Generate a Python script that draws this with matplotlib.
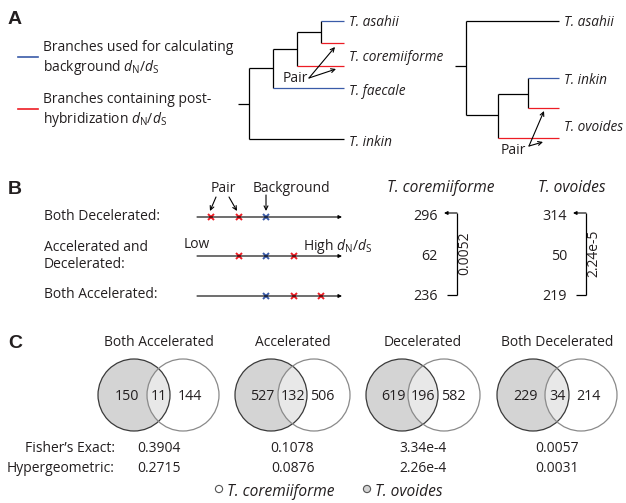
import matplotlib
matplotlib.use('Agg')
import matplotlib.pyplot as plt
from matplotlib.patches import Circle

plt.rcParams['font.family'] = ['Open Sans', 'DejaVu Sans']
plt.rcParams['mathtext.fontset'] = 'custom'
plt.rcParams['mathtext.rm'] = 'Open Sans'
plt.rcParams['mathtext.it'] = 'Open Sans:italic'
plt.rcParams['mathtext.bf'] = 'Open Sans:bold'

TXT = '#231f20'
BLUE = '#3a5ba8'
RED = '#ed1c24'
FS = 10
FS_SP = 11.2
DNDS = r'$d_\mathrm{N}/d_\mathrm{S}$'

# panel A
legend_a = ['Branches used for calculating\nbackground ' + DNDS,
            'Branches containing post-\nhybridization ' + DNDS]
tree1_tips = ['T. asahii', 'T. coremiiforme', 'T. faecale', 'T. inkin']
tree2_tips = ['T. asahii', 'T. inkin', 'T. ovoides']

# panel B
row_labels = ['Both Decelerated:', 'Accelerated and\nDecelerated:', 'Both Accelerated:']
pair_ranks = [[0, 1], [1, 3], [3, 4]]
bg_rank = 2
species_b = ['T. coremiiforme', 'T. ovoides']
counts_cor = [296, 62, 236]
counts_ovo = [314, 50, 219]
trend_p = ['0.0052', '2.24e-5']

# panel C
venn_titles = ['Both Accelerated', 'Accelerated', 'Decelerated', 'Both Decelerated']
only_ovo = [150, 527, 619, 229]
shared = [11, 132, 196, 34]
only_cor = [144, 506, 582, 214]
fisher_p = ['0.3904', '0.1078', '3.34e-4', '0.0057']
hyper_p = ['0.2715', '0.0876', '2.26e-4', '0.0031']

fig = plt.figure(figsize=(6.26, 5.03), dpi=100)
ax = fig.add_axes([0, 0, 1, 1])
ax.set_xlim(0, 626)
ax.set_ylim(503, 0)
ax.axis('off')


def txt(x, y, s, **kw):
    kw.setdefault('fontsize', FS)
    kw.setdefault('color', TXT)
    kw.setdefault('va', 'center_baseline')
    ax.text(x, y, s, **kw)


def seg(pts, color='black'):
    for (x0, y0), (x1, y1) in pts:
        ax.plot([x0, x1], [y0, y1], color=color, lw=0.9, solid_capstyle='butt')


def arrow(tail, tip, style='->', ms=7):
    ax.annotate('', xy=tip, xytext=tail,
                arrowprops=dict(arrowstyle=style, lw=0.8, color='black',
                                shrinkA=0, shrinkB=0, mutation_scale=ms))


# ---- panel labels
for lab, y in zip('ABC', [17, 188, 341]):
    ax.text(8, y, lab, fontsize=14, fontweight='bold', family='Liberation Sans',
            color=TXT, va='center_baseline')

# ---- A: legend
for s, col, y in zip(legend_a, [BLUE, RED], [57, 109]):
    ax.plot([18, 38], [y, y], color=col, lw=1.2)
    txt(43, y + 1.5, s, va='center', linespacing=1.25)

# ---- A: left tree
seg([((238, 104), (249, 104)), ((249, 68), (249, 139)), ((249, 139), (344, 139)),
     ((249, 68), (273, 68)), ((273, 49), (273, 88)), ((273, 49), (297, 49)),
     ((297, 32), (297, 66)), ((297, 32), (321, 32)), ((321, 21), (321, 43))])
seg([((273, 88), (344, 88)), ((321, 21), (344, 21))], BLUE)
seg([((297, 66), (344, 66)), ((321, 43), (344, 43))], RED)
for s, y in zip(tree1_tips, [20, 55, 89, 140]):
    txt(349, y, s, style='italic', fontsize=9.8)
txt(283, 76, 'Pair')
arrow((309, 78), (335, 47))
arrow((309, 78), (336, 69))

# ---- A: right tree
seg([((455, 66), (466, 66)), ((466, 21), (466, 115)), ((466, 21), (559, 21)),
     ((466, 115), (498, 115)), ((498, 94), (498, 138)), ((498, 94), (528, 94)),
     ((528, 78), (528, 108))])
seg([((528, 78), (559, 78))], BLUE)
seg([((528, 108), (559, 108)), ((498, 138), (559, 138))], RED)
for s, y in zip(tree2_tips, [20, 78, 125]):
    txt(564, y, s, style='italic', fontsize=9.8)
txt(501, 149, 'Pair')
arrow((529, 146), (544, 111))
arrow((529, 146), (543, 142))

# ---- B: schematic
row_y = [217, 256, 296]
x_start, step = 211, 27.5
for i, (lab, ranks, y) in enumerate(zip(row_labels, pair_ranks, row_y)):
    ty = y - 3 if i != 1 else y
    txt(44, ty, lab, va='center' if i == 1 else 'center_baseline', linespacing=1.2)
    arrow((197, y), (342, y), style='-|>', ms=5)
    px = [x_start + r * step for r in ranks]
    ax.plot(px, [y] * len(px), ls='none', marker='x', ms=5, mew=1.4, color=RED)
    ax.plot([x_start + bg_rank * step], [y], ls='none', marker='x', ms=5, mew=1.4, color=BLUE)
txt(223.5, 187, 'Pair', ha='center')
txt(291, 187, 'Background', ha='center')
arrow((216, 197), (210, 211))
arrow((229, 197), (237, 211))
arrow((266, 195), (266, 211))
txt(184, 243, 'Low')
txt(303, 243, 'High ' + DNDS)

# ---- B: counts and trend p-values
for sp, counts, p, xc, xr, xb in zip(species_b, [counts_cor, counts_ovo], trend_p,
                                    [441, 572], [438, 567], [457, 586]):
    txt(xc, 186, sp, ha='center', style='italic', fontsize=FS_SP)
    for c, y in zip(counts, [214, 254, 294]):
        txt(xr, y, str(c), ha='right', fontsize=10.3)
    arrow((xb, 213), (xr + 6, 213), style='-|>', ms=5)
    seg([((xb, 212.6), (xb, 294.5)), ((xr + 9, 294.5), (xb + 0.45, 294.5))])
    txt(xb + 7.5, 253, p, rotation=90, ha='center', va='center')

# ---- C: Venn diagrams
venn_lc = [134, 271, 402, 533]
venn_sep = [49, 43, 42, 48]
R, CY = 36, 395
for i in range(4):
    lc = venn_lc[i]
    rc = lc + venn_sep[i]
    mid = (lc + rc) / 2
    left = Circle((lc, CY), R, facecolor='#d4d4d4', edgecolor='none')
    ax.add_patch(left)
    lens = Circle((rc, CY), R, facecolor='#e8e8e8', edgecolor='none')
    ax.add_patch(lens)
    lens.set_clip_path(left)
    ax.add_patch(Circle((lc, CY), R, facecolor='none', edgecolor='#3a3a3a', lw=0.9))
    ax.add_patch(Circle((rc, CY), R, facecolor='none', edgecolor='#8a8a8a', lw=0.9))
    k = 0.6 * (R - venn_sep[i] / 2)
    txt(lc - k, CY, str(only_ovo[i]), ha='center', fontsize=10.3)
    txt(mid, CY, str(shared[i]), ha='center', fontsize=10.3)
    txt(rc + k, CY, str(only_cor[i]), ha='center', fontsize=10.3)
    txt(mid, 341, venn_titles[i], ha='center')
    txt(mid, 447, fisher_p[i], ha='center')
    txt(mid, 467, hyper_p[i], ha='center')
txt(115, 447, 'Fisher\u2019s Exact:', ha='right')
txt(115, 467, 'Hypergeometric:', ha='right')

# ---- C: legend
ax.add_patch(Circle((219, 489), 3.6, facecolor='white', edgecolor='#555555', lw=0.8))
txt(227, 490, 'T. coremiiforme', style='italic', fontsize=FS_SP)
ax.add_patch(Circle((367, 489), 3.6, facecolor='#d4d4d4', edgecolor='#555555', lw=0.8))
txt(375, 490, 'T. ovoides', style='italic', fontsize=FS_SP)

fig.savefig('out.png', dpi=100)
